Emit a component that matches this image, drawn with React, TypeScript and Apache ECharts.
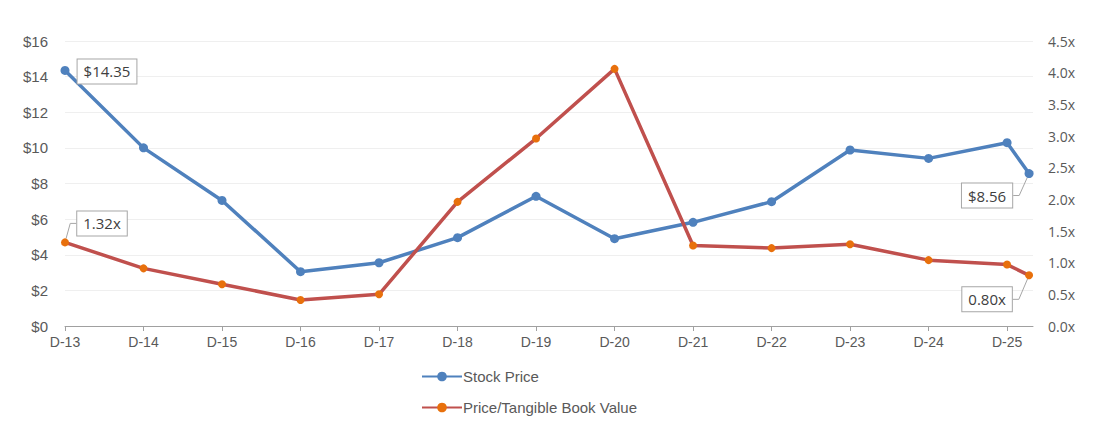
import { useRef, useEffect } from 'react';
import * as echarts from 'echarts';

// x axis categories (ticks)
const categories = ['D-13', 'D-14', 'D-15', 'D-16', 'D-17', 'D-18', 'D-19', 'D-20', 'D-21', 'D-22', 'D-23', 'D-24', 'D-25'];
// positions of the points along the x axis (last one is a partial period after D-25)
const pointX = [0, 1, 2, 3, 4, 5, 6, 7, 8, 9, 10, 11, 12, 12.28];
const stockPrice = [14.35, 10.0, 7.05, 3.05, 3.55, 4.96, 7.28, 4.9, 5.82, 6.98, 9.88, 9.41, 10.29, 8.56];
const priceTbv = [1.32, 0.91, 0.66, 0.41, 0.5, 1.96, 2.96, 4.06, 1.27, 1.23, 1.29, 1.04, 0.97, 0.8];
const leftTicks = [0, 16, 2];
const rightTicks = [0, 4.5, 0.5];

const BLUE = '#4f81bd';
const RED = '#c0504d';
const ORANGE = '#e8700c';
const GRAY = '#595959';

const boxLabel = {
    backgroundColor: '#fff',
    borderColor: '#a6a6a6',
    borderWidth: 1,
    padding: [5, 6, 4, 6],
    fontSize: 15,
    fontFamily: 'Open Sans',
    color: '#404040',
};

const App = () => {
    const chartRef = useRef<HTMLDivElement>(null);

    useEffect(() => {
        if (!chartRef.current) return;
        const chart = echarts.init(chartRef.current, null, { renderer: 'svg' });
        const last = pointX.length - 1;

        const stockData = stockPrice.map((v, i) => {
            const item: any = { value: [pointX[i], v] };
            if (i === 0) {
                item.label = { show: true, position: 'inside', formatter: '$' + v.toFixed(2), ...boxLabel };
                item.labelLine = { show: false };
            }
            if (i === last) {
                item.label = { show: true, position: 'inside', formatter: '$' + v.toFixed(2), ...boxLabel };
            }
            return item;
        });
        const tbvData = priceTbv.map((v, i) => {
            const item: any = { value: [pointX[i], v] };
            if (i === 0 || i === last) {
                item.label = { show: true, position: 'inside', formatter: v.toFixed(2) + 'x', ...boxLabel };
            }
            return item;
        });

        const options = {
            animation: false,
            grid: { left: 65, right: 66, top: 41, bottom: 109 },
            legend: {
                orient: 'vertical',
                left: 416,
                top: 364,
                itemWidth: 40,
                itemHeight: 12,
                itemGap: 16,
                textStyle: { fontSize: 15, color: GRAY, fontFamily: 'Liberation Sans', padding: [0, 0, 0, -4] },
                data: ['Stock Price', 'Price/Tangible Book Value'],
            },
            xAxis: {
                type: 'value',
                min: 0,
                max: 12.33,
                interval: 1,
                splitLine: { show: false },
                axisLine: { lineStyle: { color: '#a0a0a0', width: 1 } },
                axisTick: { show: true, length: 5, customValues: categories.map((_, i) => i), lineStyle: { color: '#a0a0a0' } },
                axisLabel: {
                    customValues: categories.map((_, i) => i),
                    formatter: (v: number) => categories[Math.round(v)] ?? '',
                    fontSize: 14,
                    color: GRAY,
                    fontFamily: 'Liberation Sans',
                    margin: 9,
                },
            },
            yAxis: [
                {
                    type: 'value',
                    min: leftTicks[0],
                    max: leftTicks[1],
                    interval: leftTicks[2],
                    axisLine: { show: false },
                    axisTick: { show: false },
                    splitLine: { lineStyle: { color: '#efefef' } },
                    axisLabel: {
                        formatter: (v: number) => '$' + v,
                        fontSize: 15,
                        color: GRAY,
                        fontFamily: 'Liberation Sans',
                        margin: 17,
                    },
                },
                {
                    type: 'value',
                    min: rightTicks[0],
                    max: rightTicks[1],
                    interval: rightTicks[2],
                    axisLine: { show: false },
                    axisTick: { show: false },
                    splitLine: { show: false },
                    axisLabel: {
                        formatter: (v: number) => v.toFixed(1) + 'x',
                        fontSize: 14,
                        color: GRAY,
                        fontFamily: 'Open Sans',
                        margin: 15,
                    },
                },
            ],
            series: [
                {
                    name: 'Stock Price',
                    type: 'line',
                    yAxisIndex: 0,
                    data: stockData,
                    symbol: 'circle',
                    symbolSize: 9,
                    itemStyle: { color: BLUE },
                    lineStyle: { color: BLUE, width: 3.5 },
                    labelLine: { show: true, lineStyle: { color: '#a6a6a6', width: 1 }, length: 6, length2: 6 },
                    labelLayout: (p: any) => {
                        if (p.dataIndex === 0) return { dx: 42, dy: 1 };
                        return { dx: -42, dy: 22 };
                    },
                },
                {
                    name: 'Price/Tangible Book Value',
                    type: 'line',
                    yAxisIndex: 1,
                    data: tbvData,
                    symbol: 'circle',
                    symbolSize: 8,
                    itemStyle: { color: ORANGE },
                    lineStyle: { color: RED, width: 3.5 },
                    labelLine: { show: true, lineStyle: { color: '#a6a6a6', width: 1 }, length: 6, length2: 6 },
                    labelLayout: (p: any) => {
                        if (p.dataIndex === 0) return { dx: 37, dy: -19 };
                        return { dx: -42, dy: 24 };
                    },
                },
            ],
        };
        chart.setOption(options as any);

        return () => {
            chart.dispose();
        };
    }, []);

    return (
        <div ref={chartRef} style={{ position: 'fixed', left: 0, top: 0, width: 1099, height: 435, background: '#fff' }} />
    );
};

export default App;
